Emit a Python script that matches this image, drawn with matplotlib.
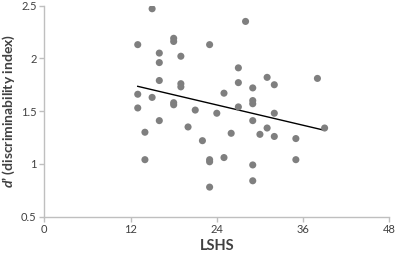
import numpy as np
import matplotlib
matplotlib.use("Agg")
import matplotlib.pyplot as plt

plt.rcParams['font.family'] = ['Lato', 'DejaVu Sans']
plt.rcParams['mathtext.fontset'] = 'custom'
plt.rcParams['mathtext.it'] = 'Lato:bold:italic'
plt.rcParams['mathtext.rm'] = 'Lato:bold'

lshs = [15, 13, 18, 18, 16, 16, 19, 28, 23, 27, 16, 19, 19, 13, 15, 18, 18, 13, 21,
        16, 20, 14, 22, 14, 31, 32, 27, 29, 25, 29, 29, 38, 27, 24, 32, 29, 31, 39,
        26, 30, 32, 35, 23, 23, 25, 35, 29, 29, 23]
dprime = [2.47, 2.13, 2.19, 2.16, 2.05, 1.96, 2.02, 2.35, 2.13, 1.91, 1.79, 1.76, 1.73,
          1.66, 1.63, 1.58, 1.56, 1.53, 1.51, 1.41, 1.35, 1.30, 1.22, 1.04, 1.82, 1.75,
          1.77, 1.72, 1.67, 1.60, 1.57, 1.81, 1.54, 1.48, 1.48, 1.41, 1.34, 1.34, 1.29,
          1.28, 1.26, 1.24, 1.04, 1.02, 1.06, 1.04, 0.99, 0.84, 0.78]

xticks = [0, 12, 24, 36, 48]
yticks = [0.5, 1, 1.5, 2, 2.5]
yticklabels = ['0.5', '1', '1.5', '2', '2.5']

fig = plt.figure(figsize=(3.97, 2.54), dpi=100)
ax = fig.add_axes([0.1116, 0.147, 0.869, 0.831])

ax.scatter(lshs, dprime, s=26, color='#7f7f7f', edgecolors='none', zorder=3)

x = np.array(lshs, dtype=float)
y = np.array(dprime, dtype=float)
slope, intercept = np.polyfit(x, y, 1)
xl = np.array([x.min(), x.max()])
ax.plot(xl, slope * xl + intercept, color='black', lw=1.0, zorder=2)

ax.set_xlim(0, 48)
ax.set_ylim(0.5, 2.5)
ax.set_xticks(xticks)
ax.set_xticklabels([str(t) for t in xticks])
ax.set_yticks(yticks)
ax.set_yticklabels(yticklabels)

for s in ['top', 'right']:
    ax.spines[s].set_visible(False)
for s in ['left', 'bottom']:
    ax.spines[s].set_color('#bfbfbf')
    ax.spines[s].set_linewidth(1.0)
ax.tick_params(axis='both', colors='#bfbfbf', length=3.5, width=1.0,
               labelcolor='#404040', labelsize=8, pad=2)

ax.set_xlabel('LSHS', fontsize=10.5, fontweight='bold', color='#404040', labelpad=3)
ax.set_ylabel('$d$’ (discriminability index)', fontsize=10, fontweight='bold',
              color='#404040', labelpad=3)
ax.yaxis.set_label_coords(-0.08, 0.5)

fig.savefig('out.png', dpi=100)
